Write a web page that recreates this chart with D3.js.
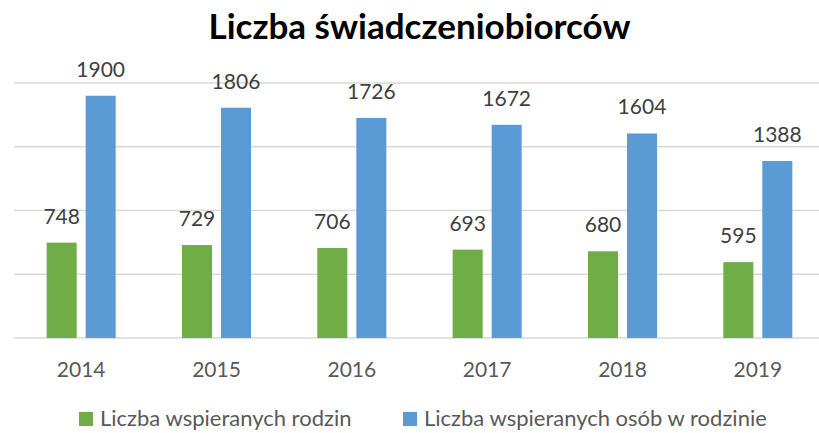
<!DOCTYPE html>
<html>
<head>
<meta charset="utf-8">
<script src="https://cdn.jsdelivr.net/npm/d3@7"></script>
<style>
  body { margin: 0; background: #fff; }
  text { font-family: Lato, "Liberation Sans", sans-serif; }
</style>
</head>
<body>
<div id="chart-area"></div>
<script>
// data
var years = ["2014", "2015", "2016", "2017", "2018", "2019"];
var rodziny = [748, 729, 706, 693, 680, 595];
var osoby = [1900, 1806, 1726, 1672, 1604, 1388];
var seriesNames = ["Liczba wspieranych rodzin", "Liczba wspieranych osób w rodzinie"];
var seriesColors = ["#70AD47", "#5B9BD5"];
var gridTicks = [0, 500, 1000, 1500, 2000];

var width = 819, height = 433;

var svg = d3.select("#chart-area").append("svg")
    .attr("width", width)
    .attr("height", height);

var x0 = d3.scaleBand()
    .domain(years)
    .range([13.5, 825.5])
    .paddingInner(0.49)
    .paddingOuter(0.245);

var x1 = d3.scaleBand()
    .domain([0, 1])
    .range([0, x0.bandwidth()])
    .paddingInner(0.23);

var y = d3.scaleLinear()
    .domain([0, 2000])
    .range([338, 83]);

var color = d3.scaleOrdinal()
    .domain([0, 1])
    .range(seriesColors);

// gridlines
svg.selectAll("line.grid")
    .data(gridTicks)
    .enter()
    .append("line")
        .attr("class", "grid")
        .attr("x1", 14)
        .attr("x2", width)
        .attr("y1", (d) => y(d))
        .attr("y2", (d) => y(d))
        .attr("stroke", "#D9D9D9")
        .attr("stroke-width", 1.5);

var table = years.map((yr, i) => {
    return { year: yr, values: [rodziny[i], osoby[i]] };
});

var groups = svg.selectAll("g.year")
    .data(table)
    .enter()
    .append("g")
        .attr("class", "year")
        .attr("transform", (d) => "translate(" + x0(d.year) + ",0)");

var cells = groups.selectAll("g.cell")
    .data((d) => d.values.map((v, k) => ({ k: k, v: v })))
    .enter()
    .append("g");

cells.append("rect")
    .attr("x", (d) => x1(d.k))
    .attr("y", (d) => y(d.v))
    .attr("width", x1.bandwidth())
    .attr("height", (d) => y(0) - y(d.v))
    .attr("fill", (d) => color(d.k));

cells.append("text")
    .attr("x", (d) => x1(d.k) + x1.bandwidth() / 2)
    .attr("y", (d) => y(d.v) - 19)
    .attr("text-anchor", "middle")
    .attr("font-size", 21)
    .attr("fill", "#404040")
    .text((d) => d.v);

// x axis labels
var xAxis = d3.axisBottom(x0).tickSize(0).tickPadding(0);
var gx = svg.append("g")
    .attr("transform", "translate(0,377)")
    .call(xAxis);
gx.select(".domain").remove();
gx.selectAll("text")
    .attr("dy", 0)
    .attr("font-size", 21)
    .attr("font-family", "Lato, 'Liberation Sans', sans-serif")
    .attr("fill", "#595959");

// title
svg.append("text")
    .attr("x", 419.5)
    .attr("y", 39)
    .attr("text-anchor", "middle")
    .attr("font-size", 35)
    .attr("font-weight", "bold")
    .attr("fill", "#000")
    .text("Liczba świadczeniobiorców");

// legend
var legendX = [79, 403];
var legend = svg.selectAll("g.legend")
    .data(seriesNames)
    .enter()
    .append("g")
        .attr("class", "legend")
        .attr("transform", (d, i) => "translate(" + legendX[i] + ",412)");

legend.append("rect")
    .attr("width", 14)
    .attr("height", 14)
    .attr("fill", (d, i) => seriesColors[i]);

legend.append("text")
    .attr("x", 21)
    .attr("y", 14)
    .attr("font-size", 22)
    .attr("fill", "#595959")
    .text((d) => d);
</script>
</body>
</html>
